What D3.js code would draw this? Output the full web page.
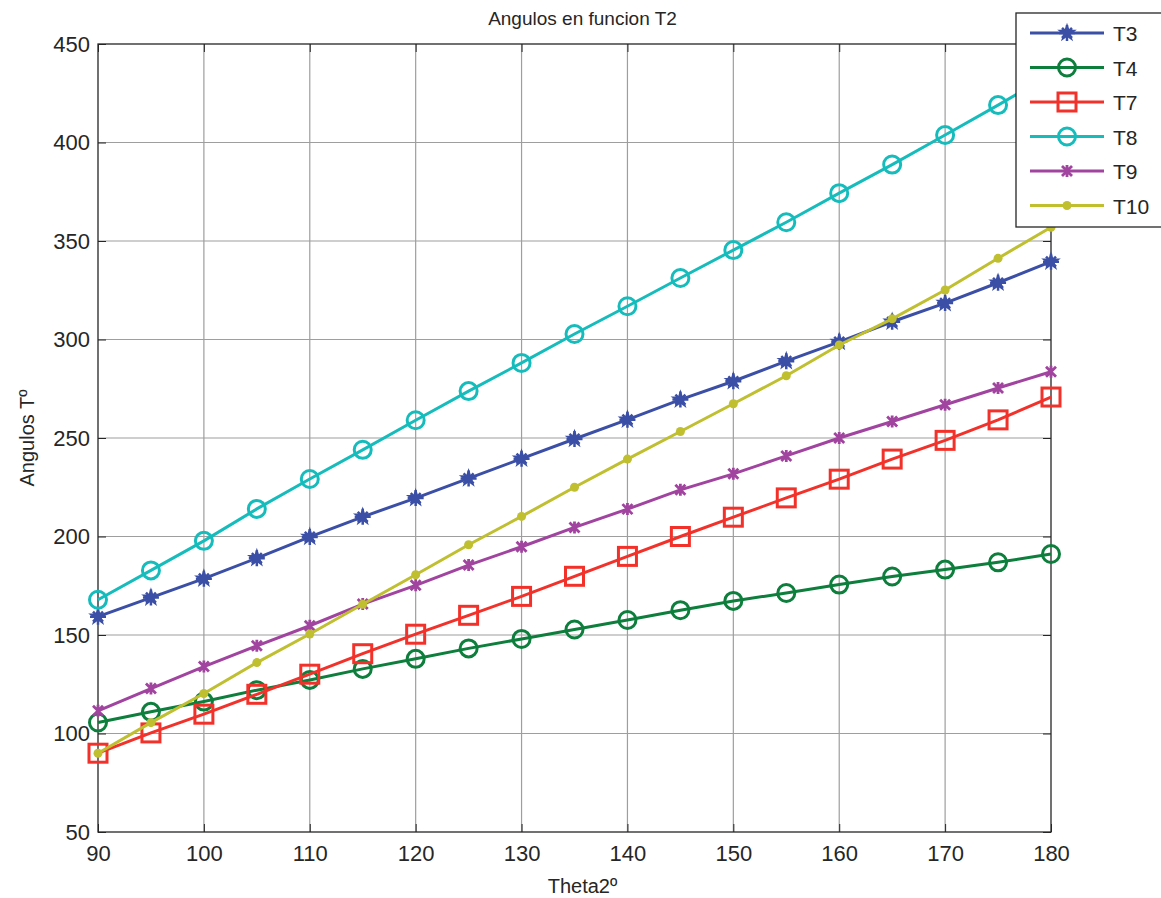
<!DOCTYPE html>
<html>
<head>
<meta charset="utf-8">
<script src="https://cdn.jsdelivr.net/npm/d3@7"></script>
<style>
  body { margin: 0; background: #fff; }
  svg text { font-family: "Liberation Sans", Arial, sans-serif; fill: #262626; }
</style>
</head>
<body>
<div id="chart-area"></div>
<script>
// data
var theta2 = [90, 95, 100, 105, 110, 115, 120, 125, 130, 135, 140, 145, 150, 155, 160, 165, 170, 175, 180];
var T3  = [159.3, 169, 178.6, 189, 199.8, 210, 219.5, 229.5, 239.5, 249.5, 259.3, 269.5, 278.8, 289, 298.8, 309, 318.5, 328.8, 339.5];
var T4  = [105.6, 111, 116.2, 122, 127.2, 132.8, 137.9, 143.2, 148, 152.8, 157.6, 162.6, 167.3, 171.3, 175.6, 179.7, 183.2, 186.9, 191.1];
var T7  = [90, 100.3, 109.8, 119.9, 130.1, 140.5, 150.4, 160, 169.6, 179.8, 189.9, 200, 209.8, 219.6, 229.1, 239.3, 248.8, 259.2, 270.8];
var T8  = [167.9, 182.8, 197.8, 214, 229.2, 244, 259, 273.8, 288.1, 302.8, 316.9, 331.2, 345.4, 359.5, 374.3, 388.8, 403.8, 419, 434.5];
var T9  = [111.5, 122.8, 134, 144.5, 154.7, 165.7, 175.2, 185.5, 194.8, 204.6, 213.9, 223.7, 231.8, 240.9, 250, 258.4, 266.9, 275.4, 283.6];
var T10 = [90, 105.5, 120.3, 136, 150.5, 165.6, 180.6, 195.8, 210.2, 225, 239.3, 253.3, 267.4, 281.6, 297.2, 310.5, 325.1, 341.2, 357];
var xTicks = [90, 100, 110, 120, 130, 140, 150, 160, 170, 180];
var yTicks = [50, 100, 150, 200, 250, 300, 350, 400, 450];

var series = [
  {name: "T3",  values: T3,  color: "#3b4fa6", marker: "star"},
  {name: "T4",  values: T4,  color: "#0d7e3c", marker: "circle"},
  {name: "T7",  values: T7,  color: "#f2322a", marker: "square"},
  {name: "T8",  values: T8,  color: "#16bcbc", marker: "circle"},
  {name: "T9",  values: T9,  color: "#a1449f", marker: "cross"},
  {name: "T10", values: T10, color: "#bfbf30", marker: "dot"}
];

var W = 1161, H = 898;
var pLeft = 98, pRight = 1051, pTop = 44, pBottom = 832;

var svg = d3.select("#chart-area").append("svg")
  .attr("width", W)
  .attr("height", H);

var x = d3.scaleLinear().domain([90, 180]).range([pLeft, pRight]);
var y = d3.scaleLinear().domain([50, 450]).range([pBottom, pTop]);

// grid
var grid = svg.append("g");
grid.selectAll("line.vx").data(xTicks.slice(1, -1)).enter().append("line")
  .attr("x1", function(d){ return x(d); }).attr("x2", function(d){ return x(d); })
  .attr("y1", pTop).attr("y2", pBottom)
  .style("stroke", "#9e9e9e").style("stroke-width", 1.2);
grid.selectAll("line.hy").data(yTicks.slice(1, -1)).enter().append("line")
  .attr("y1", function(d){ return y(d); }).attr("y2", function(d){ return y(d); })
  .attr("x1", pLeft).attr("x2", pRight)
  .style("stroke", "#9e9e9e").style("stroke-width", 1.2);

// axes with inward ticks
var tk = 8;
svg.append("g").attr("transform", "translate(0," + pBottom + ")")
  .call(d3.axisBottom(x).tickValues(xTicks).tickSizeInner(-tk).tickSizeOuter(0).tickPadding(13))
  .call(function(g){ g.select(".domain").remove(); });
svg.append("g").attr("transform", "translate(" + pLeft + ",0)")
  .call(d3.axisLeft(y).tickValues(yTicks).tickSizeInner(-tk).tickSizeOuter(0).tickPadding(8))
  .call(function(g){ g.select(".domain").remove(); });
svg.append("g").attr("transform", "translate(0," + pTop + ")")
  .call(d3.axisTop(x).tickValues(xTicks).tickSizeInner(-tk).tickSizeOuter(0).tickFormat(""))
  .call(function(g){ g.select(".domain").remove(); });
svg.append("g").attr("transform", "translate(" + pRight + ",0)")
  .call(d3.axisRight(y).tickValues(yTicks).tickSizeInner(-tk).tickSizeOuter(0).tickFormat(""))
  .call(function(g){ g.select(".domain").remove(); });

svg.selectAll(".tick text").style("font-size", "22px").style("fill", "#262626");
svg.selectAll(".tick line").style("stroke", "#262626");

svg.append("rect")
  .attr("x", pLeft).attr("y", pTop)
  .attr("width", pRight - pLeft).attr("height", pBottom - pTop)
  .style("fill", "none").style("stroke", "#262626").style("stroke-width", 1.3);

function drawMarker(g, type, color) {
  if (type == "circle") {
    g.append("circle").attr("r", 8.5).style("fill", "none").style("stroke", color).style("stroke-width", 3);
  } else if (type == "square") {
    g.append("rect").attr("x", -9).attr("y", -9).attr("width", 18).attr("height", 18)
      .style("fill", "none").style("stroke", color).style("stroke-width", 3);
  } else if (type == "dot") {
    g.append("circle").attr("r", 4.5).style("fill", color);
  } else if (type == "star") {
    g.append("path").attr("d", d3.symbol().type(d3.symbolStar).size(70)())
      .style("fill", color).style("stroke", color).style("stroke-width", 1.5);
    g.append("path").attr("d", "M-8,0H8M0,-8V8M-5,-5L5,5M-5,5L5,-5")
      .style("stroke", color).style("stroke-width", 2.5);
  } else if (type == "cross") {
    g.append("path").attr("d", "M-5,-5L5,5M-5,5L5,-5M0,-6V6")
      .style("stroke", color).style("stroke-width", 2.8);
  }
}

var line = d3.line()
  .x(function(d, i){ return x(theta2[i]); })
  .y(function(d){ return y(d); });

series.forEach(function(s){
  svg.append("path").datum(s.values)
    .attr("d", line)
    .style("fill", "none").style("stroke", s.color).style("stroke-width", 3);
  s.values.forEach(function(v, i){
    var g = svg.append("g").attr("transform", "translate(" + x(theta2[i]) + "," + y(v) + ")");
    drawMarker(g, s.marker, s.color);
  });
});

// title and labels
svg.append("text").attr("x", (pLeft + pRight) / 2 + 8).attr("y", 25)
  .attr("text-anchor", "middle").style("font-size", "19px")
  .text("Angulos en funcion T2");
svg.append("text").attr("x", (pLeft + pRight) / 2 + 8).attr("y", 893)
  .attr("text-anchor", "middle").style("font-size", "20px")
  .text("Theta2º");
svg.append("text").attr("transform", "translate(34," + ((pTop + pBottom) / 2) + ") rotate(-90)")
  .attr("text-anchor", "middle").style("font-size", "20px")
  .text("Angulos Tº");

// legend
var lg = svg.append("g");
lg.append("rect").attr("x", 1016).attr("y", 13).attr("width", 170).attr("height", 214)
  .style("fill", "#fff").style("stroke", "#262626").style("stroke-width", 1.3);
series.forEach(function(s, i){
  var ly = 33 + i * 34.5;
  lg.append("line").attr("x1", 1030).attr("x2", 1104).attr("y1", ly).attr("y2", ly)
    .style("stroke", s.color).style("stroke-width", 3);
  var g = lg.append("g").attr("transform", "translate(1067," + ly + ")");
  drawMarker(g, s.marker, s.color);
  lg.append("text").attr("x", 1113).attr("y", ly + 8).style("font-size", "21px").text(s.name);
});
</script>
</body>
</html>
